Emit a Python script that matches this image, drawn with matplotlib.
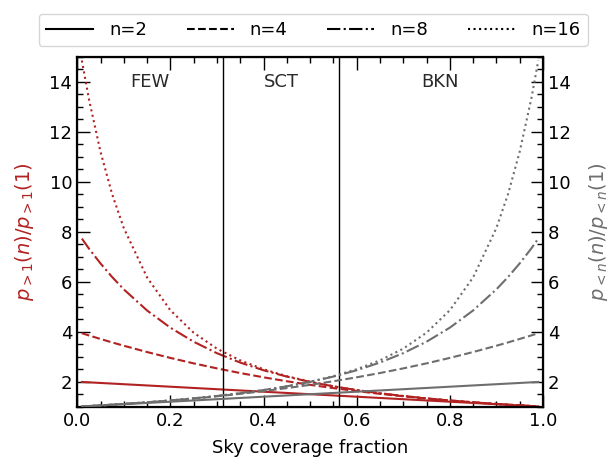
import matplotlib
matplotlib.use("Agg")
import matplotlib.pyplot as plt
from matplotlib.ticker import MultipleLocator

plt.rcParams['font.family'] = ['DejaVu Sans']
plt.rcParams['mathtext.fontset'] = 'dejavusans'
plt.rcParams['font.size'] = 13

# sky coverage fraction
x = [0.01, 0.025, 0.05, 0.075, 0.1, 0.15, 0.2, 0.25, 0.3, 0.35, 0.4, 0.45, 0.5,
     0.55, 0.6, 0.65, 0.7, 0.75, 0.8, 0.85, 0.9, 0.925, 0.95, 0.975, 0.99]

# grey curves (right axis), rising towards overcast
g2 = [1.01, 1.025, 1.05, 1.075, 1.1, 1.15, 1.2, 1.25, 1.3, 1.35, 1.4, 1.45, 1.5,
      1.55, 1.6, 1.65, 1.7, 1.75, 1.8, 1.85, 1.9, 1.925, 1.95, 1.975, 1.99]
g4 = [1.01, 1.026, 1.053, 1.081, 1.111, 1.176, 1.248, 1.328, 1.417, 1.515, 1.624, 1.744, 1.875,
      2.019, 2.176, 2.347, 2.533, 2.734, 2.952, 3.187, 3.439, 3.572, 3.710, 3.852, 3.940]
g8 = [1.01, 1.026, 1.053, 1.081, 1.111, 1.176, 1.25, 1.333, 1.428, 1.538, 1.666, 1.815, 1.992,
      2.204, 2.458, 2.766, 3.141, 3.600, 4.161, 4.850, 5.695, 6.187, 6.732, 7.33, 7.727]
g16 = [1.01, 1.026, 1.053, 1.081, 1.111, 1.176, 1.25, 1.333, 1.429, 1.538, 1.667, 1.818, 2.0,
       2.222, 2.499, 2.854, 3.322, 3.960, 4.859, 6.172, 8.147, 9.503, 11.197, 13.32, 14.85]

# red curves (left axis), falling towards overcast
r2 = [1.99, 1.975, 1.95, 1.925, 1.9, 1.85, 1.8, 1.75, 1.7, 1.65, 1.6, 1.55, 1.5,
      1.45, 1.4, 1.35, 1.3, 1.25, 1.2, 1.15, 1.1, 1.075, 1.05, 1.025, 1.01]
r4 = [3.940, 3.852, 3.710, 3.572, 3.439, 3.187, 2.952, 2.734, 2.533, 2.347, 2.176, 2.019, 1.875,
      1.744, 1.624, 1.515, 1.417, 1.328, 1.248, 1.176, 1.111, 1.081, 1.053, 1.026, 1.01]
r8 = [7.727, 7.33, 6.732, 6.187, 5.695, 4.850, 4.161, 3.600, 3.141, 2.766, 2.458, 2.204, 1.992,
      1.815, 1.666, 1.538, 1.428, 1.333, 1.25, 1.176, 1.111, 1.081, 1.053, 1.026, 1.01]
r16 = [14.85, 13.32, 11.197, 9.503, 8.147, 6.172, 4.859, 3.960, 3.322, 2.854, 2.499, 2.222, 2.0,
       1.818, 1.667, 1.538, 1.429, 1.333, 1.25, 1.176, 1.111, 1.081, 1.053, 1.026, 1.01]

ns = [2, 4, 8, 16]
styles = ['-', '--', '-.', ':']
red_curves = [r2, r4, r8, r16]
grey_curves = [g2, g4, g8, g16]

boundaries = [2.5 / 8, 4.5 / 8]
classes = ['FEW', 'SCT', 'BKN']
class_pos = [0.156, 0.4375, 0.78]

red = '#b22222'
grey = '#6e6e6e'

fig = plt.figure(figsize=(6.08, 4.58), dpi=100)
ax = fig.add_axes([0.127, 0.112, 0.766, 0.764])
ax2 = ax.twinx()

for yv, ls in zip(red_curves, styles):
    ax.plot(x, yv, color=red, ls=ls, lw=1.5)
for yv, ls in zip(grey_curves, styles):
    ax2.plot(x, yv, color=grey, ls=ls, lw=1.5)

for b in boundaries:
    ax.axvline(b, color='black', lw=1.0)
for c, p in zip(classes, class_pos):
    ax.text(p, 14.0, c, ha='center', va='center', color='#2a2a2a')

for a in (ax, ax2):
    a.set_xlim(0, 1)
    a.set_ylim(1, 15)
    a.yaxis.set_major_locator(MultipleLocator(2))
    a.yaxis.set_minor_locator(MultipleLocator(0.5))
    a.tick_params(which='both', direction='in', width=1.0)
    a.tick_params(which='major', length=9)
    a.tick_params(which='minor', length=4.5)
ax.xaxis.set_major_locator(MultipleLocator(0.2))
ax.xaxis.set_minor_locator(MultipleLocator(0.05))
ax.tick_params(which='both', top=True)
for s in ax.spines.values():
    s.set_linewidth(1.6)

ax.set_xlabel('Sky coverage fraction', labelpad=7)
ax.set_ylabel(r'$p_{>1}(n)/p_{>1}(1)$', color=red, fontsize=14, labelpad=10)
ax2.set_ylabel(r'$p_{<n}(n)/p_{<n}(1)$', color=grey, fontsize=14, labelpad=12)

handles = [plt.Line2D([], [], color='black', ls=ls, lw=1.5) for ls in styles]
fig.legend(handles, ['n=%d' % n for n in ns], loc='upper center',
           bbox_to_anchor=(0.515, 0.99), ncol=4, columnspacing=2.2,
           handlelength=2.6, handletextpad=0.9, fontsize=13)

fig.savefig('out.png', dpi=100)
